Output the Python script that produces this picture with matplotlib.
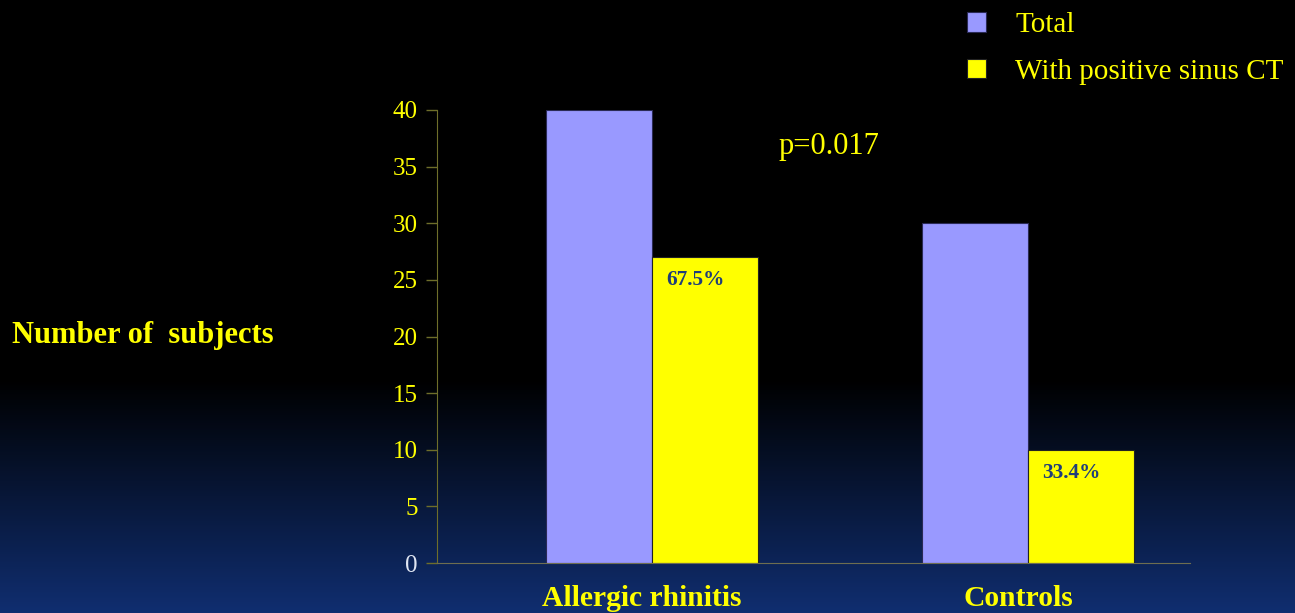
import numpy as np
import matplotlib
matplotlib.use("Agg")
import matplotlib.pyplot as plt
import matplotlib.transforms as mtransforms

# Chart data
categories = ["Allergic rhinitis", "Controls"]
series_names = ["Total", "With positive sinus CT"]
total = [40, 30]
positive_ct = [27, 10]
pct_labels = ["67.5%", "33.4%"]
p_text = "p=0.017"
y_ticks = [0, 5, 10, 15, 20, 25, 30, 35, 40]

plt.rcParams['font.family'] = ['Liberation Serif', 'DejaVu Serif']

W, H = 1295, 613
fig = plt.figure(figsize=(W / 100, H / 100), dpi=100)
fig.patch.set_facecolor("black")

# Gradient background: black at top, dark blue at bottom
bg = fig.add_axes([0, 0, 1, 1], zorder=-10)
rows = np.linspace(0, 1, 400)
t = np.clip((rows - 0.62) / 0.38, 0, 1)
top_c = np.array([0, 0, 0])
bot_c = np.array([16, 46, 112]) / 255
grad = top_c[None, :] * (1 - t[:, None]) + bot_c[None, :] * t[:, None]
bg.imshow(grad[:, None, :], aspect="auto", extent=[0, 1, 1, 0])
bg.axis("off")

# Main plot area (pixels: x 437..1190, y 110..563)
ax = fig.add_axes([437 / W, 1 - 563 / H, (1190 - 437) / W, (563 - 110) / H])
ax.set_facecolor("none")

x = np.arange(len(categories))
width = 0.282
b1 = ax.bar(x - width / 2, total, width, color="#9999FF", edgecolor="#2a2a55",
            linewidth=0.8, label=series_names[0])
b2 = ax.bar(x + width / 2, positive_ct, width, color="#FFFF00", edgecolor="#222222",
            linewidth=0.8, label=series_names[1])

for rect, lab in zip(b2, pct_labels):
    ax.annotate(lab, xy=(rect.get_x(), rect.get_height()), xytext=(14, -23),
                textcoords="offset pixels", ha="left", va="center",
                fontsize=15.3, fontweight="bold", color="#1f3d7a")

ax.text(0.47, 36.8, p_text, ha="center", va="center", fontsize=22, color="#FFFF00")

ax.set_xlim(-0.572, 1.431)
ax.set_ylim(0, 40)
ax.set_yticks(y_ticks)
ax.set_xticks(x)
ax.set_xticklabels(categories, fontsize=21.3, fontweight="bold", color="#FFFF00")
ax.tick_params(axis="x", length=0, pad=16)
ax.tick_params(axis="y", length=8, width=1, color="#6e6e2a", labelsize=18,
               labelcolor="#FFFF00", pad=6)
ax.get_yticklabels()[0].set_color("#dfe5f2")

# category labels sit a little left of the group centre in the original
shift = mtransforms.ScaledTranslation(-10 / 100, 0, fig.dpi_scale_trans)
for lbl in ax.get_xticklabels():
    lbl.set_transform(lbl.get_transform() + shift)

for side in ["top", "right"]:
    ax.spines[side].set_visible(False)
ax.spines["left"].set_color("#6e6e2a")
ax.spines["bottom"].set_color("#6e6e50")

fig.text(12 / W, 1 - 335 / H, "Number of  subjects", ha="left", va="center",
         fontsize=22, fontweight="bold", color="#FFFF00")

leg = fig.legend(handles=[b1, b2], labels=series_names, loc="upper left",
                 bbox_to_anchor=(941 / W, 1 + 14 / H), frameon=False, fontsize=21,
                 handlelength=0.64, handleheight=0.64, handletextpad=1.0,
                 labelspacing=0.7, labelcolor="#FFFF00")

fig.savefig("out.png", dpi=100, facecolor=fig.get_facecolor())
